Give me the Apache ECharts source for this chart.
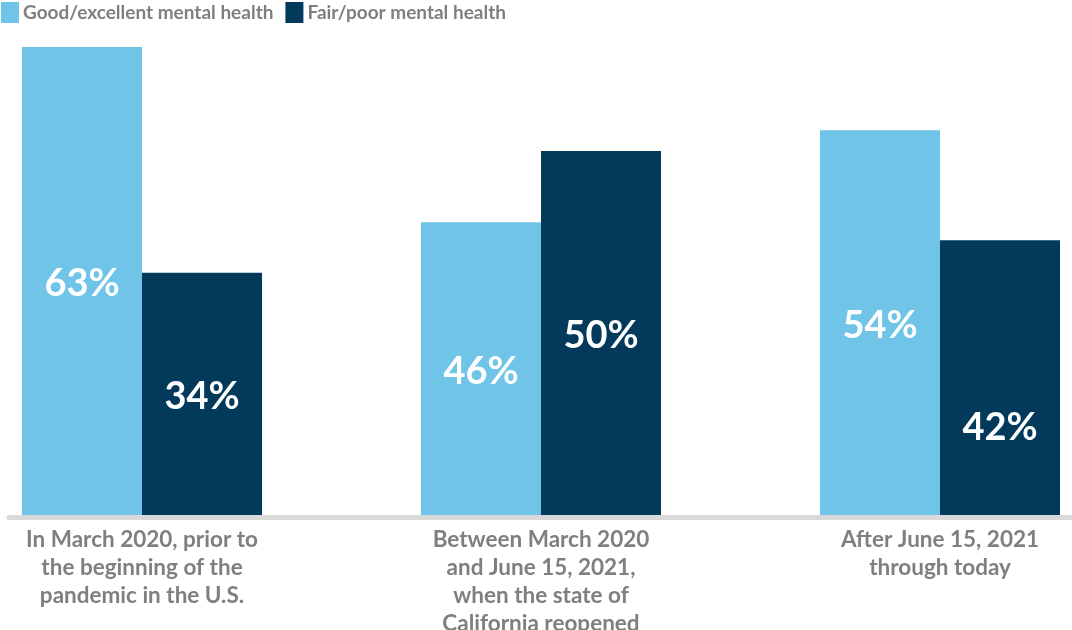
<!DOCTYPE html>
<html>
<head>
<meta charset="utf-8">
<script src="https://cdn.jsdelivr.net/npm/echarts@6/dist/echarts.min.js"></script>
<style>
html,body{margin:0;padding:0;background:#fff;}
#c{width:1072px;height:630px;}
</style>
</head>
<body>
<div id="c"></div>
<script>
// Categories (period of time)
const categories = [
  'In March 2020, prior to\nthe beginning of the\npandemic in the U.S.',
  'Between March 2020\nand June 15, 2021,\nwhen the state of\nCalifornia reopened',
  'After June 15, 2021\nthrough today'
];
const seriesNames = ['Good/excellent mental health', 'Fair/poor mental health'];
// Bar heights as drawn in the picture (percent scale)
const goodValues = [63, 39.4, 51.8];
const fairValues = [32.6, 49.0, 37.0];
// Printed data labels
const goodLabels = ['63%', '46%', '54%'];
const fairLabels = ['34%', '50%', '42%'];

const LIGHT = '#6fc4e8';
const DARK = '#033a5b';
const GRAY = '#7f7f7f';

const chart = echarts.init(document.getElementById('c'), null, {renderer: 'canvas'});

const labelStyle = {
  show: true,
  position: 'inside',
  color: '#ffffff',
  fontFamily: 'Lato',
  fontWeight: 'bold',
  fontSize: 38
};

chart.setOption({
  animation: false,
  legend: {
    left: 1, top: 2, padding: 0,
    itemWidth: 18, itemHeight: 21, itemGap: 12,
    icon: 'rect',
    textStyle: {color: GRAY, fontFamily: 'Lato', fontWeight: 'bold', fontSize: 19, padding: [0, 0, 0, -1]},
    data: seriesNames
  },
  grid: [
    {left: -57.5, width: 1197, top: 47, bottom: 115, containLabel: false, outerBoundsMode: 'none'},
    {left: 9, right: 0, top: 47, bottom: 112.5, containLabel: false, outerBoundsMode: 'none'}
  ],
  xAxis: [
    {
      type: 'category', gridIndex: 0, data: categories,
      axisLine: {show: false}, axisTick: {show: false},
      axisLabel: {
        color: GRAY, fontFamily: 'Lato', fontWeight: 'bold', fontSize: 22.5,
        lineHeight: 28, margin: 11, interval: 0
      }
    },
    {
      type: 'category', gridIndex: 1, data: [''],
      axisLine: {show: true, lineStyle: {color: '#d9d9d9', width: 5}},
      axisTick: {show: false}, axisLabel: {show: false}
    }
  ],
  yAxis: [
    {type: 'value', gridIndex: 0, min: 0, max: 63, show: false, splitLine: {show: false}},
    {type: 'value', gridIndex: 1, show: false, splitLine: {show: false}}
  ],
  series: [
    {
      name: seriesNames[0], type: 'bar', xAxisIndex: 0, yAxisIndex: 0,
      barWidth: 120, barGap: '0%',
      itemStyle: {color: LIGHT},
      label: Object.assign({}, labelStyle, {formatter: p => goodLabels[p.dataIndex], offset: [0, 3]}),
      data: goodValues
    },
    {
      name: seriesNames[1], type: 'bar', xAxisIndex: 0, yAxisIndex: 0,
      barWidth: 120, barGap: '0%',
      itemStyle: {color: DARK},
      label: Object.assign({}, labelStyle, {formatter: p => fairLabels[p.dataIndex], offset: [0, 3]}),
      data: fairValues.map((v, i) => i === 2 ? {value: v, label: {offset: [0, 50]}} : v)
    }
  ]
});
</script>
</body>
</html>
